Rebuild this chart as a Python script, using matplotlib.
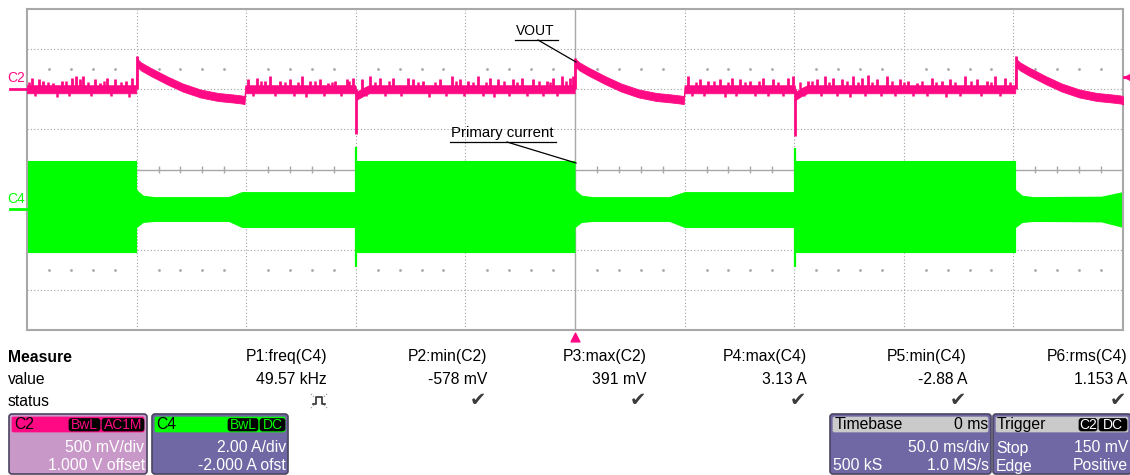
import matplotlib
matplotlib.use("Agg")
import matplotlib.pyplot as plt
import numpy as np
from matplotlib.patches import FancyBboxPatch

plt.rcParams['font.family'] = ['Liberation Sans', 'DejaVu Sans']

# scope settings
T_DIV = 50.0        # ms/div
C2_MV_DIV = 500.0   # mV/div
C2_ZERO = 2.0       # div (ground marker of C2)
C4_A_DIV = 2.0      # A/div
C4_ZERO = -1.0      # div (ground marker of C4)

PINK = '#ff0a84'
GREEN = '#00ff00'

# VOUT (C2) centre of the noisy trace, ms / mV
vout_t = [-250, -200.2, -199.8, -198, -194, -186, -179, -171, -163, -156, -152, -150.8, -150.4,
          -100.2, -99.6, -97, -94,
          -0.2, 0.1, 2, 6, 14, 21, 29, 37, 44, 48, 49.6, 50.0,
          100.2, 100.8, 103, 106,
          200.8, 201.2, 203, 207, 215, 222, 230, 238, 245, 249, 250]
vout_mv = [0, 0, 330, 285, 222, 110, 22, -52, -96, -115, -128, -135, 0,
           0, -80, -40, 0,
           0, 330, 285, 222, 110, 22, -52, -96, -115, -128, -135, 0,
           0, -80, -40, 0,
           0, 330, 285, 222, 110, 22, -52, -96, -115, -128, -140]
vout_noise_mv = 50

# VOUT noise spikes / transients, ms / mV
spike_t = [-247.9, -244.4, -242.6, -238, -234.2, -229.6, -227.6, -225.8, -224.6, -219, -216.7,
           -213.6, -209.9, -204.8, -202.2,
           -149, -145.2, -141.4, -139.1, -134.6, -130, -124.7, -120.9, -116.3, -112.5, -109.5,
           -104.2, -101.4,
           -97.3, -93.5, -89, -82.9, -76, -73.8, -69.2, -61.6, -56.3, -52.5, -48.7, -44.1, -38.8,
           -35, -28.2, -24.3, -19, -12.9, -9.9, -6.1, -2.3, -0.8,
           51.7, 57, 60.8, 66.1, 71.5, 75.3, 79.8, 85.9, 90.5, 97.3, 99.5,
           106.4, 110.3, 114.1, 117.8, 121.7, 127, 130.8, 133.8, 137.6, 142.2, 148.3, 152.1, 155.9,
           162.7, 167.3, 171.1, 178, 183.3, 187.9, 191.6, 196.2,
           -199.8, 0.1, 201.1, -99.9, 100.4]
spike_mv = [143, 122, 101, 81, 101, 143, 163, 122, 163, 122, 81,
            143, 122, 101, 143,
            122, 143, 101, 163, 101, 122, 163, 101, 122, 81, 101,
            122, 143,
            122, 163, 143, 143, 143, 122, 101, 122, 163, 122, 101, 163, 143,
            122, 122, 143, 122, 101, 143, 163, 143, 163,
            163, 122, 101, 122, 143, 122, 101, 143, 122, 143, 163,
            101, 122, 163, 143, 122, 163, 143, 183, 122, 163, 122, 101, 81,
            143, 101, 122, 163, 122, 101, 163, 143,
            410, 395, 420, -563, -578]

# smaller up/down noise excursions of VOUT, ms / mV
ripple_t = [-249, -246.2, -240.4, -236.1, -232, -231, -222.3, -220.8, -215, -211.8, -207.3, -203.5,
            -147.1, -143.3, -137, -132.2, -128, -126.5, -122.8, -118.5, -114.4, -110.9, -106.8, -103,
            -95.2, -91.4, -86.8, -84.8, -79.6, -71.4, -66.6, -64, -59, -54.4, -50.6, -46.4, -42,
            -40.5, -36.8, -32.2, -30, -26.3, -21.8, -16.5, -14.8, -11.5, -8.1, -4.2,
            53.5, 55.1, 59, 63.2, 68.4, 69.9, 73.4, 77.5, 82.2, 84, 88.2, 92.8, 94.9,
            102.5, 104.3, 108.2, 112.1, 116, 119.7, 124.3, 125.5, 129, 132.3, 135.7, 139.8, 144.6,
            146.2, 150.3, 154, 158.4, 160.6, 164.8, 169.3, 173.4, 175.6, 180.6, 185.4, 189.7,
            193.8, 198.4]
ripple_mv = [95, -85, 90, -95, 100, -80, 95, -90, 100, -85, 90, -95,
             -90, 100, -85, 95, -80, 90, -95, 100, -85, 95, -90, 100,
             -85, 95, -90, 100, -85, 95, -95, 90, -80, 100, -90, 95, -85,
             90, -95, 100, -85, 95, -90, 100, -80, 95, -90, 100,
             -90, 95, -85, 100, -95, 90, -80, 95, -90, 100, -85, 95, -90,
             95, -85, 100, -90, 95, -85, 100, -95, 90, -80, 95, -90, 100,
             -85, 95, -90, 100, -85, 95, -95, 90, -80, 100, -90, 95,
             -85, 95]

# primary current (C4) envelope, ms / A
cur_t = [-250, -200, -200, -197, -192, -158, -152, -100, -100, 0, 0, 3, 8, 43, 50,
         100.4, 100.4, 201, 201, 204, 209, 240, 250]
cur_hi = [2.45, 2.45, 1.0, 0.72, 0.65, 0.65, 0.90, 0.90, 2.45, 2.45, 1.0, 0.72, 0.65, 0.65, 0.90,
          0.90, 2.45, 2.45, 1.0, 0.72, 0.65, 0.67, 0.90]
cur_lo = [-2.14, -2.14, -0.89, -0.64, -0.59, -0.59, -0.89, -0.89, -2.14, -2.14, -0.89, -0.64, -0.59,
          -0.59, -0.89, -0.89, -2.14, -2.14, -0.89, -0.64, -0.59, -0.61, -0.89]
cur_spike_t = [-99.9, 100.4]
cur_spike_hi = [3.13, 3.05]
cur_spike_lo = [-2.88, -2.84]

# measurement table
meas_names = ['P1:freq(C4)', 'P2:min(C2)', 'P3:max(C2)', 'P4:max(C4)', 'P5:min(C4)', 'P6:rms(C4)']
meas_values = ['49.57 kHz', '-578 mV', '391 mV', '3.13 A', '-2.88 A', '1.153 A']


def c2_div(mv):
    return np.asarray(mv, dtype=float) / C2_MV_DIV + C2_ZERO


def c4_div(a):
    return np.asarray(a, dtype=float) / C4_A_DIV + C4_ZERO


fig = plt.figure(figsize=(11.3, 4.75), dpi=100, facecolor='white')
W, H = 1130, 475
ax = fig.add_axes([27 / W, (H - 330) / H, 1096 / W, 321 / H])
ax.set_xlim(-5 * T_DIV, 5 * T_DIV)
ax.set_ylim(-4, 4)
ax.set_xticks([])
ax.set_yticks([])
for s in ax.spines.values():
    s.set_color('#a8a8a8')
    s.set_linewidth(1.5)

# graticule
grid_kw = dict(color='#a0a0a0', lw=0.8, ls=(0, (1, 2)), zorder=1)
for k in range(-4, 5):
    if k != 0:
        ax.axvline(k * T_DIV, **grid_kw)
for k in range(-3, 4):
    if k != 0:
        ax.axhline(k, **grid_kw)
ax.axvline(0, color='#a8a8a8', lw=1.0, zorder=1)
ax.axhline(0, color='#a8a8a8', lw=1.0, zorder=1)
minor = [m * 10 for m in range(-24, 25) if m % 5 != 0]
ax.vlines(minor, -0.08, 0.08, color='#a8a8a8', lw=1.0, zorder=1)
ax.scatter(minor * 2, [2.5] * len(minor) + [-2.5] * len(minor), s=1.0, color='#a8a8a8', zorder=1)

# C4 primary current
ax.fill_between(cur_t, c4_div(cur_lo), c4_div(cur_hi), color=GREEN, lw=0, zorder=2)
ax.vlines(cur_spike_t, c4_div(cur_spike_lo), c4_div(cur_spike_hi), color=GREEN, lw=1.6, zorder=2)

# C2 output voltage
vc = np.array(vout_mv, dtype=float)
ax.fill_between(vout_t, c2_div(vc - vout_noise_mv), c2_div(vc + vout_noise_mv),
                color=PINK, lw=0.6, edgecolor=PINK, zorder=3)
ax.vlines(spike_t, c2_div(np.zeros(len(spike_t))), c2_div(spike_mv), color=PINK, lw=2.0, zorder=3)
ax.vlines(ripple_t, c2_div(np.zeros(len(ripple_t))), c2_div(ripple_mv), color=PINK, lw=1.8, zorder=3)

# overlay in pixel coordinates
ov = fig.add_axes([0, 0, 1, 1], zorder=5)
ov.set_xlim(0, W)
ov.set_ylim(H, 0)
ov.axis('off')
ov.patch.set_alpha(0)

# channel markers
ov.text(7, 78, 'C2', color=PINK, fontsize=10, va='center', ha='left')
ov.plot([10, 27], [89, 89], color=PINK, lw=2)
ov.text(7, 199, 'C4', color=GREEN, fontsize=10, va='center', ha='left')
ov.plot([10, 27], [209, 209], color=GREEN, lw=2)
ov.plot([1124, 1130], [77, 77], color=PINK, lw=2)
ov.scatter([1127], [77], marker='<', s=18, color=PINK)
ov.scatter([575], [337], marker='^', s=40, color=PINK, clip_on=False)

# annotations
ov.text(535, 31, 'VOUT', fontsize=10, ha='center', va='center')
ov.plot([515, 558], [40, 40], color='black', lw=0.9)
ov.plot([538, 576], [40, 62], color='black', lw=0.9)
ov.text(502, 133, 'Primary current', fontsize=10.8, ha='center', va='center')
ov.plot([450, 556], [142, 142], color='black', lw=0.9)
ov.plot([507, 576], [142, 163], color='black', lw=0.9)

# measurement table
FS = 11.3
ov.text(8, 357, 'Measure', fontsize=FS, fontweight='bold', va='center')
ov.text(8, 380, 'value', fontsize=FS, va='center')
ov.text(8, 401, 'status', fontsize=FS, va='center')
for i, (n, v) in enumerate(zip(meas_names, meas_values)):
    xr = 327 + 160 * i
    ov.text(xr, 357, n, fontsize=FS, ha='right', va='center')
    ov.text(xr, 380, v, fontsize=FS, ha='right', va='center')
    if i > 0:
        ov.text(xr - 1, 401, '\u2714', fontsize=14, ha='right', va='center', color='#3a3a3a',
                family='DejaVu Sans')
# P1 status glyph
ov.plot([313, 316, 316, 322, 322, 325], [404, 404, 397, 397, 404, 404], color='#303030', lw=1.2)
ov.plot([311, 315], [394, 398], color='#909090', lw=0.8, ls=':')
ov.plot([327, 323], [394, 398], color='#909090', lw=0.8, ls=':')
ov.plot([311, 315], [408, 404], color='#909090', lw=0.8, ls=':')
ov.plot([327, 323], [408, 404], color='#909090', lw=0.8, ls=':')


def box(x0, x1, y0, y1, fc, ec='#4a4460', r=3, lw=1.2):
    p = FancyBboxPatch((x0, y0), x1 - x0, y1 - y0, boxstyle=f'round,pad=0,rounding_size={r}',
                       fc=fc, ec=ec, lw=lw)
    ov.add_patch(p)


def badge(x0, x1, label, tc):
    box(x0, x1, 418.5, 431, 'black', ec='black', r=2.5, lw=0.5)
    ov.text((x0 + x1) / 2, 425, label, color=tc, fontsize=10, ha='center', va='center')


PURPLE = '#7068a4'
BF = 11.3
# C2 box
box(9, 147, 414, 474, '#c898c8')
box(12, 144, 417, 432, PINK, ec=PINK, r=1.5, lw=0.5)
ov.text(14, 424.5, 'C2', fontsize=BF, va='center')
badge(69, 100, 'BwL', PINK)
badge(102, 144, 'AC1M', PINK)
ov.text(144, 448, '500 mV/div', color='white', fontsize=BF, ha='right', va='center')
ov.text(145, 466, '1.000 V offset', color='white', fontsize=BF, ha='right', va='center')

# C4 box
box(152, 288, 414, 474, PURPLE)
box(155, 285, 417, 432, GREEN, ec=GREEN, r=1.5, lw=0.5)
ov.text(156, 424.5, 'C4', fontsize=BF, va='center')
badge(228, 258, 'BwL', GREEN)
badge(260, 285, 'DC', GREEN)
ov.text(286, 448, '2.00 A/div', color='white', fontsize=BF, ha='right', va='center')
ov.text(286, 466, '-2.000 A ofst', color='white', fontsize=BF, ha='right', va='center')

# Timebase box
box(830, 991, 414, 474, PURPLE)
box(833, 988, 417, 432, '#cacaca', ec='#cacaca', r=1.5, lw=0.5)
ov.text(835, 424.5, 'Timebase', fontsize=BF, va='center')
ov.text(988, 424.5, '0 ms', fontsize=BF, ha='right', va='center')
ov.text(989, 448, '50.0 ms/div', color='white', fontsize=BF, ha='right', va='center')
ov.text(833, 466, '500 kS', color='white', fontsize=BF, va='center')
ov.text(989, 466, '1.0 MS/s', color='white', fontsize=BF, ha='right', va='center')

# Trigger box
box(993, 1131, 414, 474, PURPLE)
box(996, 1128, 417, 432, '#cacaca', ec='#cacaca', r=1.5, lw=0.5)
ov.text(997, 424.5, 'Trigger', fontsize=BF, va='center')
badge(1079, 1097, 'C2', 'white')
badge(1099, 1127, 'DC', 'white')
ov.text(996, 448, 'Stop', color='white', fontsize=BF, va='center')
ov.text(1128, 448, '150 mV', color='white', fontsize=BF, ha='right', va='center')
ov.text(996, 466, 'Edge', color='white', fontsize=BF, va='center')
ov.text(1128, 466, 'Positive', color='white', fontsize=BF, ha='right', va='center')

fig.savefig('out.png', dpi=100, facecolor='white')
